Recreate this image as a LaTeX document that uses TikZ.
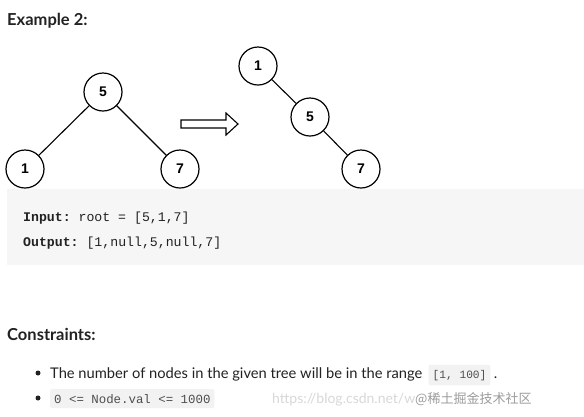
\documentclass[tikz,border=0pt]{standalone}
\usepackage{fontspec}
\setmainfont{Lato}
\setmonofont{Liberation Mono}
\newfontfamily\cjkfont{Noto Sans CJK SC}
\newfontfamily\numfont{Liberation Sans}
\usetikzlibrary{positioning}
\definecolor{ink}{HTML}{222222}
\definecolor{codebg}{HTML}{F6F6F6}
\definecolor{chipbg}{HTML}{F2F2F2}
\definecolor{mark}{HTML}{D8D8D8}

\begin{document}
\begin{tikzpicture}[
  x=1pt,y=-1pt,
  tnode/.style={draw=black,circle,line width=1.2pt,minimum size=38pt,inner sep=0pt,font=\numfont\fontsize{14}{14}\bfseries},
  edge/.style={line width=1.1pt},
  head/.style={anchor=base west,text=ink,font=\fontsize{16.5}{19}\bfseries,inner sep=0pt},
  txt/.style={anchor=base west,text=ink,font=\fontsize{14.7}{18}\selectfont,inner sep=0pt},
  code/.style={anchor=base west,text=ink,font=\ttfamily\fontsize{13.2}{16}\selectfont,inner sep=0pt},
  chip/.style={anchor=base west,text=ink!80,fill=chipbg,rounded corners=2pt,font=\ttfamily\fontsize{12.4}{14}\selectfont,inner xsep=4pt,inner ysep=5pt},
  dot/.style={circle,fill=ink,inner sep=0pt,minimum size=5pt}
]
\useasboundingbox (0,0) rectangle (584,416);
\fill[white] (0,0) rectangle (584,416);

\node[head] (ex) at (7,25) {Example 2:};

% input tree
\node[tnode] (a5) at (103,92) {5};
\node[tnode] (a1) at (25,169) {1};
\node[tnode] (a7) at (180,169) {7};
\draw[edge] (a5)--(a1);
\draw[edge] (a5)--(a7);

% hollow arrow
\draw[line width=1.1pt,line join=miter] (181,120)--(226,120)--(226,113)--(238,124)--(226,135)--(226,128)--(181,128)--cycle;

% output tree
\node[tnode] (b1) at (258,66) {1};
\node[tnode] (b5) at (310,117) {5};
\node[tnode] (b7) at (361,169) {7};
\draw[edge] (b1)--(b5);
\draw[edge] (b5)--(b7);

% example box
\fill[codebg] (7,189) rectangle (584,265);
\node[code] (in) at (23,221) {\textbf{Input:} root = [5,1,7]};
\node[code] (out) at (23,246) {\textbf{Output:} [1,null,5,null,7]};

\node[head] (con) at (7,340) {Constraints:};

\node[dot] (d1) at (38,373) {};
\node[txt] (t1) at (50,378) {The number of nodes in the given tree will be in the range};
\node[chip,right=6pt of t1.base east,anchor=base west,font=\ttfamily\fontsize{11.2}{14}\selectfont] (rng) {[1, 100]};
\node[txt,right=3pt of rng.base east,anchor=base west] (p1) {.};

\node[dot] (d2) at (38,398) {};
\node[chip] (val) at (50,403) {0 <= Node.val <= 1000};

% watermark
\node[anchor=base west,inner sep=0pt,text=mark,font=\fontsize{14}{16}\selectfont] (wm) at (272,403) {https://blog.csdn.net/w};
\node[anchor=base west,inner sep=0pt,text=ink!45,font=\cjkfont\fontsize{13}{15}\selectfont] (jj) at (415,403) {@稀土掘金技术社区};
\end{tikzpicture}
\end{document}
